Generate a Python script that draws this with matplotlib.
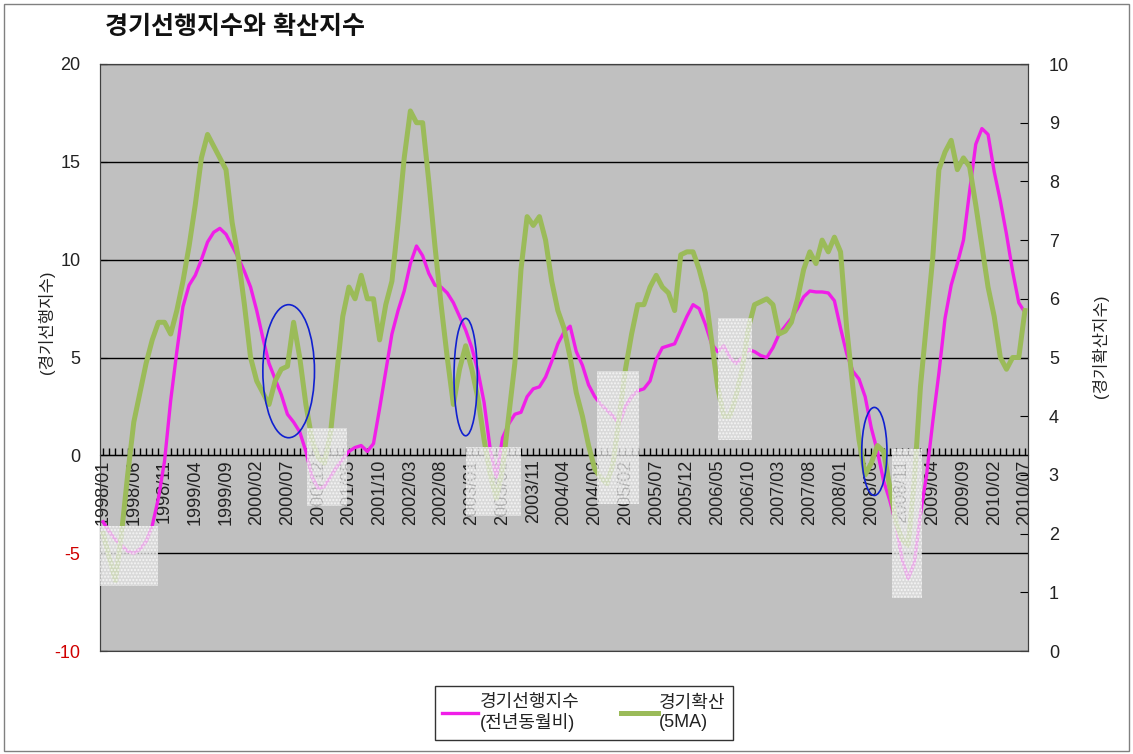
import pandas as pd
import matplotlib
matplotlib.use("Agg")
import matplotlib.pyplot as plt
from matplotlib.patches import Rectangle, Ellipse
from matplotlib.lines import Line2D

plt.rcParams['font.family'] = ['Liberation Sans', 'Noto Sans CJK KR']

# monthly categories 1998/01 .. 2010/07
MONTHS = [p.strftime('%Y/%m') for p in pd.period_range('1998-01', '2010-07', freq='M')]

# 경기선행지수 (전년동월비), left axis
LEADING = [
    -3.4, -3.9, -4.3, -4.6, -4.9, -5.0, -4.8, -4.4, -3.6, -2.2,
    -0.3, 2.8, 5.3, 7.6, 8.7, 9.2, 10.0, 10.9, 11.4, 11.6,
    11.3, 10.7, 10.1, 9.4, 8.6, 7.4, 6.0, 4.7, 3.9, 3.1,
    2.1, 1.7, 1.2, 0.2, -1.1, -1.7, -1.6, -1.1, -0.6, -0.2,
    0.2, 0.4, 0.5, 0.2, 0.6, 2.4, 4.3, 6.2, 7.4, 8.4,
    9.8, 10.7, 10.2, 9.3, 8.7, 8.6, 8.3, 7.8, 7.1, 6.4,
    5.5, 4.3, 2.7, 0.3, -1.1, 0.9, 1.6, 2.1, 2.2, 3.0,
    3.4, 3.5, 4.0, 4.8, 5.7, 6.3, 6.6, 5.3, 4.6, 3.6,
    3.0, 2.6, 2.3, 2.0, 1.6, 2.5, 3.0, 3.3, 3.4, 3.8,
    4.9, 5.5, 5.6, 5.7, 6.4, 7.1, 7.7, 7.5, 6.7, 5.7,
    5.3, 5.6, 5.0, 4.7, 5.0, 5.4, 5.3, 5.1, 5.0, 5.5,
    6.2, 6.6, 7.0, 7.5, 8.1, 8.4, 8.35, 8.35, 8.3, 7.9,
    6.5, 5.2, 4.3, 3.9, 3.0, 1.4, 0.2, -1.3, -2.3, -3.5,
    -5.3, -6.3, -5.5, -3.0, -1.0, 1.7, 4.2, 7.0, 8.7, 9.8,
    11.0, 13.5, 15.9, 16.7, 16.4, 14.5, 13.0, 11.3, 9.4, 7.8, 7.3,
]

# 경기확산지수 (5MA), right axis
DIFFUSION = [
    2.0, 1.6, 1.2, 2.0, 3.0, 3.9, 4.4, 4.9, 5.3, 5.6,
    5.6, 5.4, 5.8, 6.3, 6.9, 7.6, 8.4, 8.8, 8.6, 8.4,
    8.2, 7.3, 6.7, 5.9, 5.0, 4.6, 4.4, 4.2, 4.6, 4.8,
    4.85, 5.6, 5.0, 4.2, 3.6, 3.3, 3.2, 3.7, 4.7, 5.7,
    6.2, 6.0, 6.4, 6.0, 6.0, 5.3, 5.9, 6.3, 7.3, 8.4,
    9.2, 9.0, 9.0, 8.0, 6.9, 5.9, 5.0, 4.2, 4.8, 5.2,
    4.8, 4.3, 3.6, 3.0, 2.6, 3.1, 4.0, 4.9, 6.5, 7.4,
    7.25, 7.4, 7.0, 6.3, 5.8, 5.5, 5.0, 4.4, 4.0, 3.5,
    3.1, 2.95, 2.85, 3.2, 4.0, 4.8, 5.4, 5.9, 5.9, 6.2,
    6.4, 6.2, 6.1, 5.8, 6.75, 6.8, 6.8, 6.5, 6.1, 5.3,
    4.5, 4.0, 4.0, 4.35, 4.8, 5.5, 5.9, 5.95, 6.0, 5.9,
    5.4, 5.45, 5.6, 6.0, 6.5, 6.8, 6.6, 7.0, 6.8, 7.05,
    6.8, 5.5, 4.5, 3.6, 3.0, 3.2, 3.5, 3.4, 2.8, 2.2,
    1.9, 1.8, 2.9, 4.5, 5.6, 6.7, 8.2, 8.5, 8.7, 8.2,
    8.4, 8.25, 7.6, 6.9, 6.2, 5.7, 5.0, 4.8, 5.0, 5.0, 5.8,
]

# shaded boxes: month-index span and left-axis value span
SHADE_X0 = [-0.5, 33.2, 59.0, 80.3, 100.0, 128.4]
SHADE_X1 = [9.0, 39.7, 68.0, 87.2, 105.6, 133.3]
SHADE_LO = [-6.7, -2.6, -3.1, -2.5, 0.8, -7.3]
SHADE_HI = [-3.6, 1.4, 0.45, 4.3, 7.0, 0.3]

# blue circled turning points: centre month, centre value, width (months), height
CIRC_X = [30.2, 59.0, 125.5]
CIRC_Y = [4.3, 4.0, 0.2]
CIRC_W = [8.4, 3.8, 4.1]
CIRC_H = [6.8, 6.0, 4.5]

LEFT_TICKS = [-10, -5, 0, 5, 10, 15, 20]
RIGHT_TICKS = list(range(0, 11))

MAGENTA = '#F01EE8'
GREEN = '#9BBB59'
TXT = '#222222'

fig = plt.figure(figsize=(11.33, 7.54), dpi=100)
ax = fig.add_axes([100 / 1133, 103 / 754, 928 / 1133, 587 / 754])
ax.set_facecolor('#C0C0C0')
# category axis crosses at 0 (set before tick styling: this resets the ticks)
ax.spines['bottom'].set_position(('data', 0))
ax.spines['bottom'].set_color('black')
x = list(range(len(MONTHS)))

ax.plot(x, LEADING, color=MAGENTA, lw=2.4, zorder=3)
ax.set_xlim(-0.5, len(MONTHS) - 0.5)
ax.set_ylim(-10, 20)
ax.set_yticks(LEFT_TICKS)
ax.set_yticklabels([str(t) for t in LEFT_TICKS])
ax.grid(axis='y', color='black', lw=1)
ax.set_axisbelow(True)

ax.set_xticks(x[::5])
ax.set_xticklabels(MONTHS[::5])
ax.set_xticks(x, minor=True)
ax.tick_params(axis='x', which='both', direction='in', length=5, width=1,
               color='black', pad=3)
ax.tick_params(axis='x', which='major', labelrotation=90, labelsize=13,
               labelcolor=TXT)
ax.tick_params(axis='y', direction='in', length=5, labelsize=13, pad=14)
for lab, t in zip(ax.get_yticklabels(), LEFT_TICKS):
    lab.set_color('#D00000' if t < 0 else TXT)
for s in ('left', 'top', 'right'):
    ax.spines[s].set_color('#404040')

ax2 = ax.twinx()
ax2.plot(x, DIFFUSION, color=GREEN, lw=3.6, zorder=3)
ax2.set_ylim(0, 10)
ax2.set_yticks(RIGHT_TICKS)
ax2.tick_params(axis='y', direction='in', length=6, labelsize=13, pad=15,
                labelcolor=TXT)
for s in ax2.spines.values():
    s.set_color('#404040')

for x0, x1, lo, hi in zip(SHADE_X0, SHADE_X1, SHADE_LO, SHADE_HI):
    ax2.add_patch(Rectangle((x0, lo), x1 - x0, hi - lo, transform=ax.transData,
                            facecolor='#E4E4E4', edgecolor='white', hatch='.....',
                            lw=0, alpha=0.72, zorder=4))
for cx, cy, w, h in zip(CIRC_X, CIRC_Y, CIRC_W, CIRC_H):
    ax2.add_patch(Ellipse((cx, cy), w, h, transform=ax.transData, fill=False,
                          edgecolor='#1020D0', lw=1.2, zorder=5))

ax.text(-0.058, 0.56, '(경기선행지수)', rotation=90, transform=ax.transAxes,
        ha='center', va='center', fontsize=12, color=TXT)
ax.text(1.078, 0.52, '(경기확산지수)', rotation=90, transform=ax.transAxes,
        ha='center', va='center', fontsize=12, color=TXT)

fig.text(105 / 1133, 1 - 27 / 754, '경기선행지수와 확산지수', fontsize=18,
         fontweight='bold', ha='left', va='center', color='#111111')

handles = [Line2D([], [], color=MAGENTA, lw=2.4), Line2D([], [], color=GREEN, lw=3.6)]
leg = fig.legend(handles, ['경기선행지수\n(전년동월비)', '경기확산\n(5MA)'], ncol=2,
                 loc='center', bbox_to_anchor=(584 / 1133, 1 - 713 / 754),
                 fontsize=13, frameon=True, fancybox=False, edgecolor='black',
                 handlelength=2.0, handletextpad=0.1, columnspacing=2.3,
                 borderpad=0.4, labelspacing=0.2)
leg.get_frame().set_linewidth(1.0)
for t in leg.get_texts():
    t.set_color(TXT)
    t.set_multialignment('left')

fig.patches.append(Rectangle((4 / 1133, 3 / 754), 1125 / 1133, 747 / 754,
                             transform=fig.transFigure, fill=False,
                             edgecolor='#808080', lw=1))

fig.savefig('out.png', dpi=100)
